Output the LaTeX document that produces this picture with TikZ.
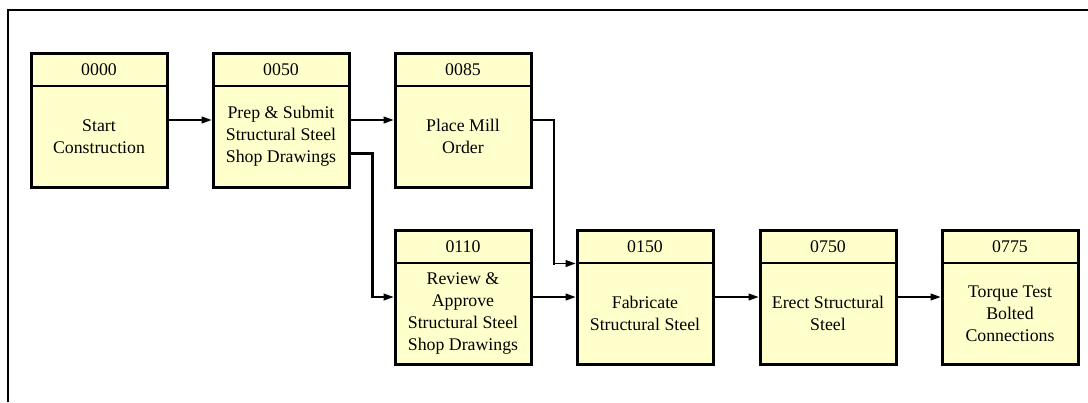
\documentclass[tikz,border=0pt]{standalone}
\usepackage{fontspec}
\setmainfont{Liberation Serif}
\usetikzlibrary{arrows.meta,calc}

\definecolor{actfill}{HTML}{FFFFCC}

\tikzset{
  actbox/.style={draw=black, fill=actfill, line width=3pt, rectangle,
    minimum width=136pt, minimum height=134pt, inner sep=0pt},
  divider/.style={draw=black, line width=2pt},
  idtext/.style={font=\fontsize{17.8}{22}\selectfont, inner sep=0pt},
  desc/.style={font=\fontsize{17.8}{22}\selectfont, align=center, inner sep=0pt},
  arr/.style={draw=black, line width=1.2pt, -{Triangle[length=10pt,width=7pt]}},
  elbow/.style={draw=black, line width=2.4pt, line cap=rect},
  frameline/.style={draw=black, line width=2pt}
}

% one activity: box, id strip and description
\newcommand\activity[4]{%
  \node[actbox] (#1) at (#2,#3) {};
  \draw[divider] ([shift={(-68pt,34pt)}]#1.center) -- ++(136,0);
  \node[idtext] (#1-id) at ([yshift=50.5pt]#1.center) {#4};
}

\begin{document}
\begin{tikzpicture}[x=1pt,y=-1pt]
  \useasboundingbox (0,0) rectangle (1088,402);
  \draw[frameline] (8,402) -- (8,10) -- (1088,10);

  % upper row
  \activity{a0000}{99}{120}{0000}
  \node[desc] (a0000-txt) at ([yshift=-16.5pt]a0000.center) {Start\\Construction};
  \activity{a0050}{281}{120}{0050}
  \node[desc] (a0050-txt) at ([yshift=-16.5pt]a0050.center) {Prep \& Submit\\Structural Steel\\Shop Drawings};
  \activity{a0085}{463}{120}{0085}
  \node[desc] (a0085-txt) at ([yshift=-16.5pt]a0085.center) {Place Mill\\Order};

  % lower row
  \activity{a0110}{463}{297}{0110}
  \node[desc] (a0110-txt) at ([yshift=-16.5pt]a0110.center) {Review \&\\Approve\\Structural Steel\\Shop Drawings};
  \activity{a0150}{645}{297}{0150}
  \node[desc] (a0150-txt) at ([yshift=-16.5pt]a0150.center) {Fabricate\\Structural Steel};
  \activity{a0750}{828}{297}{0750}
  \node[desc] (a0750-txt) at ([yshift=-16.5pt]a0750.center) {Erect Structural\\Steel};
  \activity{a0775}{1010}{297}{0775}
  \node[desc] (a0775-txt) at ([yshift=-16.5pt]a0775.center) {Torque Test\\Bolted\\Connections};

  % straight links
  \draw[arr] (a0000.east) -- (a0050.west);
  \draw[arr] (a0050.east) -- (a0085.west);
  \draw[arr] (a0110.east) -- (a0150.west);
  \draw[arr] (a0150.east) -- (a0750.west);
  \draw[arr] (a0750.east) -- (a0775.west);

  % 0050 -> 0110
  \coordinate (s1) at ([yshift=-33.5pt]a0050.east);
  \coordinate (k1) at ($(s1)+(22,0)$);
  \coordinate (k1b) at (k1 |- a0110.west);
  \draw[elbow] (s1) -- (k1) -- (k1b);
  \draw[arr] (k1b) -- (a0110.west);

  % 0085 -> 0150
  \coordinate (s2) at (a0085.east);
  \coordinate (k2) at ($(s2)+(21.5,0)$);
  \coordinate (t2) at ([yshift=33.5pt]a0150.west);
  \coordinate (k2b) at (k2 |- t2);
  \draw[elbow] (s2) -- (k2) -- (k2b);
  \draw[arr] (k2b) -- (t2);
\end{tikzpicture}
\end{document}
